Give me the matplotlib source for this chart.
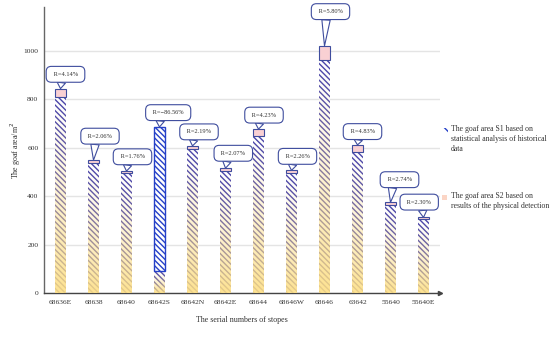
import numpy as np
import matplotlib
matplotlib.use("Agg")
import matplotlib.pyplot as plt
from matplotlib.patches import Rectangle
from matplotlib.colors import to_rgb

# данные
stopes = ["68636E", "68638", "68640", "68642S", "68642N", "68642E",
          "68644", "68646W", "68646", "63642", "55640", "55640E"]
s1 = [810, 537, 494, 685, 594, 504, 649, 495, 963, 583, 364, 305]   # statistical analysis
s2 = [843, 548, 503, 92, 607, 515, 676, 506, 1019, 611, 374, 312]   # physical detection
r_labels = ["4.14%", "2.06%", "1.76%", "\u221286.56%", "2.19%", "2.07%",
            "4.23%", "2.26%", "5.80%", "4.83%", "2.74%", "2.30%"]

# смещения выносок (px) относительно вершины столбца
call_dx = [5, 6.5, 6, 8.7, 6.5, 7.8, 5.5, 6, 6, 5, 9, -4.3]
call_gap = [6, 15.7, 6, 6, 5.7, 6.6, 5.7, 5.7, 26, 5, 14.4, 7]

serif = "Liberation Serif"
txt_col = "#333333"
hatch_col = "#4a45aa"
blue = "#2540c8"
edge_col = "#3f4d9e"
yellow = to_rgb("#fddf85")

plt.rcParams["hatch.linewidth"] = 1.0

fig = plt.figure(figsize=(5.5, 3.44), dpi=100)
ax = fig.add_axes([0.08, 0.148, 0.72, 0.832])

x = np.arange(len(stopes))
w = 0.33
hatch = "\\" * 6

for i in x:
    low = min(s1[i], s2[i])
    # нижняя часть: штриховка S1 поверх градиента S2
    bar = ax.bar(i, low, width=w, color="white", edgecolor=hatch_col,
                 hatch=hatch, linewidth=0, zorder=2)[0]
    t = np.linspace(0, 1, 200)
    alpha = np.clip(1.0 - t, 0, 1) ** 1.3 * 0.9
    grad = np.zeros((200, 1, 4))
    grad[:, 0, :3] = yellow
    grad[:, 0, 3] = alpha
    im = ax.imshow(grad, extent=[i - w / 2, i + w / 2, 0, low], origin="lower",
                   aspect="auto", zorder=3, interpolation="bilinear")
    im.set_clip_path(bar)
    if s2[i] > s1[i]:
        # розовая шапка S2
        ax.bar(i, s2[i] - s1[i], bottom=s1[i], width=w, color="#f9d0d3",
               edgecolor=edge_col, linewidth=0.8, zorder=4)
    else:
        ax.bar(i, s1[i] - s2[i], bottom=s2[i], width=w, color="white",
               edgecolor=blue, hatch=hatch, linewidth=0, zorder=4)
        ax.bar(i, s1[i] - s2[i], bottom=s2[i], width=w, fill=False,
               edgecolor=blue, linewidth=1.0, zorder=5)

    top = max(s1[i], s2[i])
    ax.annotate(" R=" + r_labels[i] + " ", xy=(i, top),
                xytext=(call_dx[i] * 0.72, (call_gap[i] + 8.3) * 0.72),
                textcoords="offset points", ha="center", va="center",
                fontsize=4.6, family=serif, color=txt_col, zorder=6,
                bbox=dict(boxstyle="round,pad=0.85,rounding_size=0.8", fc="white",
                          ec=edge_col, lw=0.8),
                arrowprops=dict(arrowstyle="wedge,tail_width=0.6,shrink_factor=0.5",
                                mutation_scale=10, fc="white", ec=edge_col, lw=0.8,
                                relpos=(0.5 - call_dx[i] / 40, 0),
                                shrinkA=0, shrinkB=0))

ax.set_xlim(-0.5, 11.5)
ax.set_ylim(0, 1180)
ax.set_xticks(x)
ax.set_xticklabels(stopes)
ax.set_yticks([0, 200, 400, 600, 800, 1000])
ax.tick_params(length=0, labelsize=5.4, labelcolor=txt_col)
ax.tick_params(axis="x", pad=5)
ax.tick_params(axis="y", pad=4)
for lab in ax.get_xticklabels() + ax.get_yticklabels():
    lab.set_family(serif)
ax.grid(axis="y", color="#e4e4e4", linewidth=1.0, zorder=0)
ax.set_axisbelow(True)
for s in ["top", "right"]:
    ax.spines[s].set_visible(False)
ax.spines["left"].set_color("#666666")
ax.spines["bottom"].set_color("#444444")
ax.spines["left"].set_linewidth(1.0)
ax.spines["bottom"].set_linewidth(1.0)
ax.plot(1, 0, marker=">", markersize=3, color="#444444", transform=ax.transAxes,
        clip_on=False, zorder=7)

ax.set_xlabel("The serial numbers of stopes", fontsize=5.8, family=serif,
              color=txt_col, labelpad=8)
ax.set_ylabel("The goaf area/m$^2$", fontsize=5.8, family=serif, color=txt_col,
              labelpad=0)

# легенда справа
fig.text(0.82, 0.636, "The goaf area S1 based on\nstatistical analysis of historical\ndata",
         fontsize=5.6, family=serif, color=txt_col, va="top", linespacing=1.3)
fig.text(0.82, 0.441, "The goaf area S2 based on\nresults of the physical detection",
         fontsize=5.6, family=serif, color=txt_col, va="top", linespacing=1.3)
fig.patches.append(Rectangle((442 / 550, 1 - 134 / 344), 6 / 550, 6 / 344,
                             transform=fig.transFigure, facecolor="white",
                             edgecolor=blue, hatch="\\\\", linewidth=0))
fig.patches.append(Rectangle((442 / 550, 1 - 200 / 344), 5 / 550, 5 / 344,
                             transform=fig.transFigure, facecolor="#fbd5c5",
                             edgecolor="none"))

fig.savefig("out.png", dpi=100)
